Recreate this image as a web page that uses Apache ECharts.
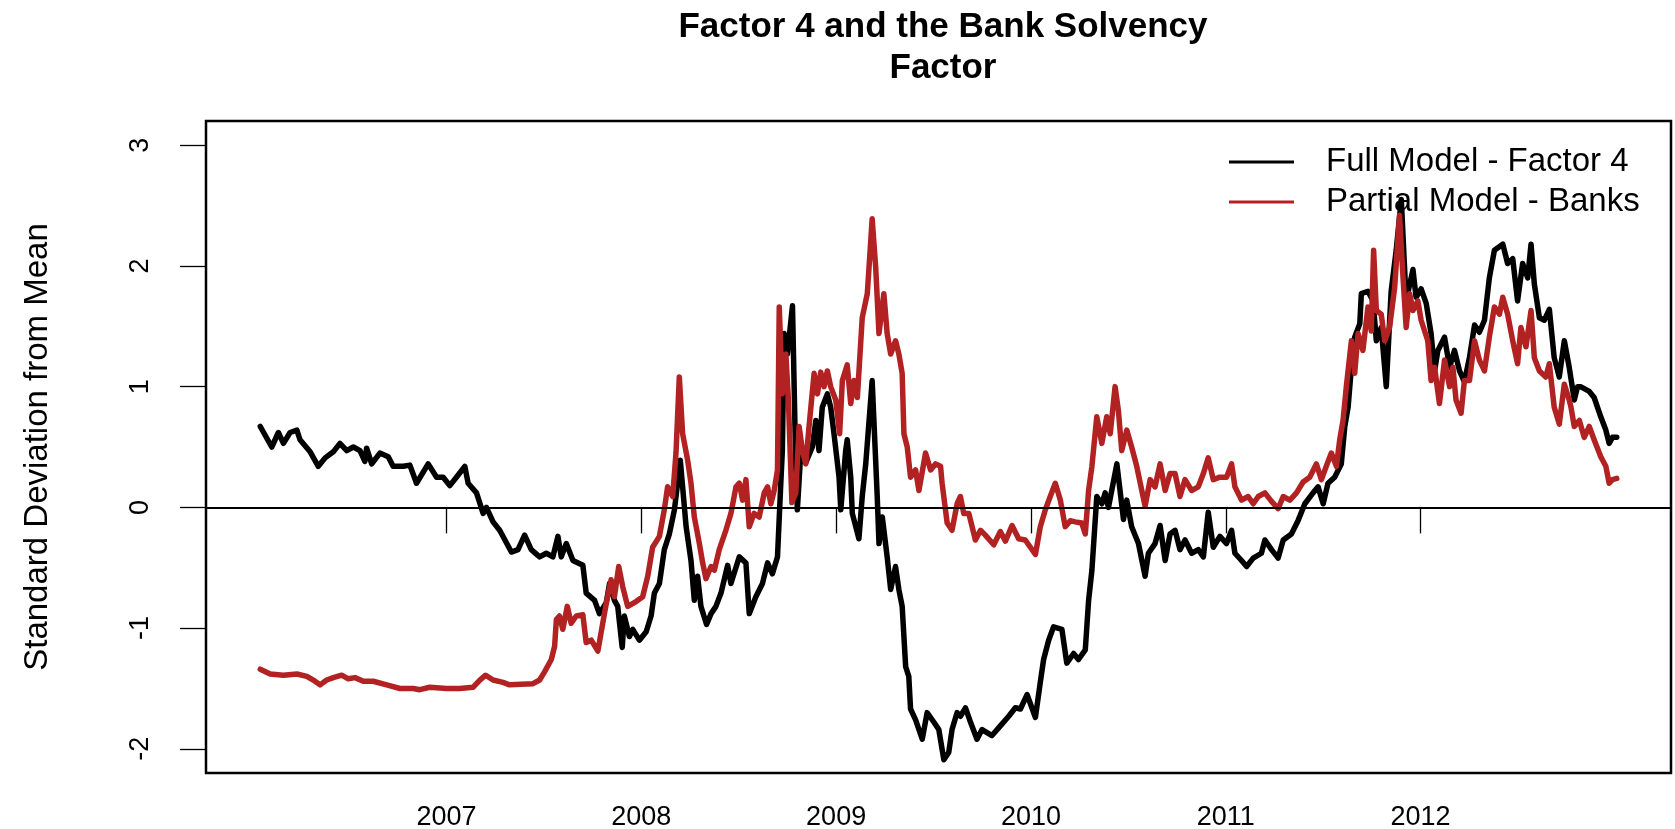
<!DOCTYPE html>
<html>
<head>
<meta charset="utf-8">
<title>Factor 4 and the Bank Solvency Factor</title>
<script src="https://cdn.jsdelivr.net/npm/echarts@6/dist/echarts.min.js"></script>
<style>
  html, body { margin: 0; padding: 0; background: #fff; }
  #chart { width: 1675px; height: 829px; }
</style>
</head>
<body>
<div id="chart"></div>
<script>
// Decimal-year time stamps with standardised factor values.
const fullModelFactor4 = [
  [2006.044,0.67],[2006.103,0.50],[2006.137,0.62],[2006.163,0.53],[2006.197,0.62],[2006.232,0.64],[2006.248,0.56],[2006.300,0.46],[2006.342,0.34],[2006.377,0.41],
  [2006.419,0.46],[2006.453,0.53],[2006.488,0.47],[2006.522,0.50],[2006.556,0.47],[2006.581,0.38],[2006.590,0.49],[2006.616,0.36],[2006.658,0.45],[2006.701,0.42],
  [2006.726,0.34],[2006.778,0.34],[2006.812,0.35],[2006.846,0.20],[2006.906,0.36],[2006.949,0.25],[2006.983,0.25],[2007.017,0.18],[2007.051,0.25],[2007.094,0.34],
  [2007.111,0.20],[2007.154,0.12],[2007.188,-0.05],[2007.205,0.00],[2007.239,-0.12],[2007.273,-0.19],[2007.333,-0.37],[2007.367,-0.35],[2007.401,-0.23],[2007.435,-0.35],
  [2007.478,-0.41],[2007.512,-0.38],[2007.546,-0.41],[2007.572,-0.24],[2007.589,-0.41],[2007.615,-0.30],[2007.649,-0.44],[2007.700,-0.48],[2007.717,-0.71],[2007.760,-0.77],
  [2007.785,-0.88],[2007.820,-0.79],[2007.837,-0.63],[2007.862,-0.77],[2007.879,-0.82],[2007.902,-1.16],[2007.913,-0.90],[2007.939,-1.07],[2007.956,-1.01],[2007.990,-1.10],
  [2008.025,-1.03],[2008.050,-0.90],[2008.067,-0.71],[2008.093,-0.63],[2008.118,-0.35],[2008.144,-0.22],[2008.170,-0.02],[2008.200,0.39],[2008.230,-0.16],[2008.255,-0.44],
  [2008.272,-0.77],[2008.289,-0.57],[2008.306,-0.82],[2008.335,-0.97],[2008.358,-0.88],[2008.383,-0.82],[2008.409,-0.71],[2008.443,-0.48],[2008.460,-0.63],[2008.503,-0.41],
  [2008.537,-0.46],[2008.554,-0.88],[2008.588,-0.74],[2008.622,-0.63],[2008.648,-0.46],[2008.673,-0.55],[2008.699,-0.41],[2008.716,0.20],[2008.724,0.47],[2008.733,1.44],
  [2008.750,1.27],[2008.776,1.67],[2008.793,0.34],[2008.801,-0.02],[2008.819,0.47],[2008.844,0.37],[2008.878,0.50],[2008.896,0.72],[2008.912,0.47],[2008.929,0.83],
  [2008.955,0.94],[2008.972,0.83],[2008.989,0.61],[2009.015,0.25],[2009.024,-0.02],[2009.049,0.47],[2009.057,0.56],[2009.075,0.25],[2009.083,-0.05],[2009.117,-0.26],
  [2009.134,0.09],[2009.152,0.36],[2009.185,1.05],[2009.211,0.09],[2009.220,-0.30],[2009.237,-0.08],[2009.262,-0.41],[2009.280,-0.68],[2009.305,-0.49],[2009.322,-0.68],
  [2009.339,-0.82],[2009.357,-1.32],[2009.373,-1.40],[2009.382,-1.67],[2009.408,-1.76],[2009.442,-1.92],[2009.467,-1.70],[2009.502,-1.78],[2009.527,-1.84],[2009.553,-2.09],
  [2009.578,-2.03],[2009.595,-1.84],[2009.621,-1.70],[2009.638,-1.73],[2009.664,-1.66],[2009.690,-1.78],[2009.723,-1.92],[2009.749,-1.84],[2009.800,-1.89],[2009.843,-1.81],
  [2009.886,-1.73],[2009.920,-1.66],[2009.946,-1.67],[2009.980,-1.55],[2010.023,-1.74],[2010.048,-1.45],[2010.065,-1.26],[2010.091,-1.10],[2010.116,-0.99],[2010.159,-1.01],
  [2010.184,-1.29],[2010.219,-1.21],[2010.244,-1.26],[2010.279,-1.18],[2010.296,-0.77],[2010.313,-0.52],[2010.338,0.09],[2010.364,0.03],[2010.381,0.12],[2010.398,0.00],
  [2010.441,0.36],[2010.475,-0.10],[2010.492,0.06],[2010.517,-0.16],[2010.552,-0.30],[2010.586,-0.57],[2010.603,-0.38],[2010.637,-0.30],[2010.663,-0.15],[2010.689,-0.44],
  [2010.714,-0.22],[2010.740,-0.19],[2010.765,-0.35],[2010.791,-0.27],[2010.825,-0.38],[2010.859,-0.35],[2010.885,-0.41],[2010.910,-0.04],[2010.936,-0.33],[2010.970,-0.24],
  [2011.004,-0.30],[2011.030,-0.19],[2011.047,-0.38],[2011.081,-0.44],[2011.107,-0.49],[2011.141,-0.42],[2011.183,-0.38],[2011.201,-0.27],[2011.235,-0.35],[2011.269,-0.42],
  [2011.295,-0.27],[2011.337,-0.22],[2011.371,-0.11],[2011.406,0.03],[2011.448,0.12],[2011.474,0.17],[2011.500,0.03],[2011.525,0.20],[2011.559,0.25],[2011.593,0.36],
  [2011.611,0.67],[2011.628,0.83],[2011.645,1.16],[2011.662,1.41],[2011.688,1.52],[2011.696,1.77],[2011.730,1.79],[2011.756,1.71],[2011.773,1.38],[2011.798,1.49],
  [2011.824,1.00],[2011.849,1.79],[2011.875,2.13],[2011.901,2.55],[2011.926,1.71],[2011.961,1.97],[2011.977,1.74],[2012.003,1.81],[2012.029,1.69],[2012.054,1.44],
  [2012.072,1.13],[2012.089,1.30],[2012.123,1.41],[2012.149,1.16],[2012.174,1.30],[2012.200,1.13],[2012.225,1.04],[2012.251,1.24],[2012.277,1.51],[2012.302,1.45],
  [2012.328,1.55],[2012.353,1.90],[2012.379,2.13],[2012.422,2.18],[2012.447,2.02],[2012.473,2.06],[2012.498,1.71],[2012.524,2.02],[2012.550,1.90],[2012.567,2.18],
  [2012.584,1.85],[2012.610,1.57],[2012.635,1.55],[2012.661,1.64],[2012.686,1.24],[2012.712,1.08],[2012.738,1.38],[2012.763,1.16],[2012.789,0.89],[2012.806,1.00],
  [2012.821,1.00],[2012.866,0.96],[2012.891,0.91],[2012.925,0.75],[2012.951,0.64],[2012.968,0.53],[2012.985,0.58],[2013.007,0.58]
];

const partialModelBanks = [
  [2006.044,-1.34],[2006.095,-1.38],[2006.163,-1.39],[2006.232,-1.38],[2006.283,-1.40],[2006.325,-1.44],[2006.351,-1.47],[2006.385,-1.43],[2006.419,-1.41],[2006.462,-1.39],
  [2006.496,-1.42],[2006.530,-1.41],[2006.573,-1.44],[2006.624,-1.44],[2006.693,-1.47],[2006.761,-1.50],[2006.829,-1.50],[2006.863,-1.51],[2006.914,-1.49],[2007.000,-1.50],
  [2007.068,-1.50],[2007.136,-1.49],[2007.171,-1.43],[2007.201,-1.39],[2007.239,-1.43],[2007.290,-1.45],[2007.324,-1.47],[2007.444,-1.46],[2007.478,-1.43],[2007.504,-1.36],
  [2007.538,-1.26],[2007.555,-1.15],[2007.564,-0.93],[2007.580,-0.90],[2007.597,-1.01],[2007.620,-0.82],[2007.640,-0.96],[2007.666,-0.90],[2007.700,-0.89],[2007.717,-1.12],
  [2007.743,-1.10],[2007.777,-1.19],[2007.802,-0.96],[2007.823,-0.77],[2007.845,-0.60],[2007.862,-0.74],[2007.884,-0.49],[2007.905,-0.66],[2007.930,-0.82],[2007.973,-0.78],
  [2008.007,-0.74],[2008.033,-0.57],[2008.058,-0.33],[2008.093,-0.24],[2008.118,-0.02],[2008.135,0.17],[2008.161,0.09],[2008.178,0.45],[2008.195,1.08],[2008.212,0.61],
  [2008.238,0.39],[2008.255,0.20],[2008.272,-0.08],[2008.298,-0.30],[2008.315,-0.46],[2008.332,-0.59],[2008.358,-0.49],[2008.375,-0.52],[2008.400,-0.35],[2008.434,-0.19],
  [2008.460,-0.05],[2008.486,0.17],[2008.503,0.20],[2008.520,0.06],[2008.537,0.23],[2008.554,-0.16],[2008.579,-0.05],[2008.605,-0.08],[2008.631,0.12],[2008.648,0.17],
  [2008.665,0.03],[2008.682,0.14],[2008.699,0.31],[2008.708,1.66],[2008.724,0.94],[2008.742,1.27],[2008.755,0.89],[2008.773,0.04],[2008.793,0.12],[2008.810,0.67],
  [2008.827,0.47],[2008.844,0.36],[2008.861,0.67],[2008.887,1.11],[2008.904,0.94],[2008.921,1.12],[2008.938,1.00],[2008.955,1.13],[2008.972,1.00],[2008.998,0.89],
  [2009.018,0.61],[2009.032,1.05],[2009.057,1.18],[2009.075,0.86],[2009.092,1.05],[2009.109,0.91],[2009.134,1.57],[2009.160,1.77],[2009.169,1.99],[2009.185,2.39],
  [2009.203,1.99],[2009.220,1.44],[2009.245,1.77],[2009.262,1.44],[2009.280,1.27],[2009.305,1.38],[2009.322,1.27],[2009.339,1.11],[2009.348,0.61],[2009.365,0.50],
  [2009.382,0.25],[2009.408,0.31],[2009.425,0.14],[2009.459,0.45],[2009.485,0.31],[2009.510,0.36],[2009.536,0.34],[2009.544,0.20],[2009.570,-0.13],[2009.595,-0.19],
  [2009.621,0.03],[2009.638,0.09],[2009.655,-0.05],[2009.681,-0.05],[2009.715,-0.27],[2009.741,-0.19],[2009.766,-0.23],[2009.809,-0.31],[2009.843,-0.20],[2009.869,-0.28],
  [2009.903,-0.15],[2009.937,-0.26],[2009.971,-0.27],[2009.997,-0.33],[2010.023,-0.39],[2010.048,-0.16],[2010.074,-0.02],[2010.099,0.09],[2010.125,0.20],[2010.151,0.06],
  [2010.176,-0.16],[2010.202,-0.11],[2010.227,-0.12],[2010.261,-0.13],[2010.279,-0.22],[2010.296,0.14],[2010.313,0.34],[2010.338,0.75],[2010.364,0.53],[2010.389,0.75],
  [2010.407,0.61],[2010.432,1.00],[2010.449,0.80],[2010.466,0.47],[2010.492,0.64],[2010.517,0.50],[2010.543,0.34],[2010.569,0.14],[2010.586,0.01],[2010.612,0.23],
  [2010.637,0.17],[2010.663,0.36],[2010.689,0.14],[2010.714,0.28],[2010.740,0.28],[2010.765,0.09],[2010.791,0.23],[2010.825,0.14],[2010.859,0.17],[2010.885,0.28],
  [2010.910,0.41],[2010.936,0.23],[2010.970,0.25],[2011.004,0.25],[2011.030,0.36],[2011.047,0.17],[2011.081,0.06],[2011.115,0.09],[2011.141,0.03],[2011.167,0.09],
  [2011.201,0.12],[2011.235,0.05],[2011.269,-0.01],[2011.295,0.09],[2011.329,0.06],[2011.363,0.12],[2011.397,0.21],[2011.431,0.25],[2011.465,0.36],[2011.491,0.23],
  [2011.516,0.34],[2011.542,0.45],[2011.568,0.34],[2011.585,0.56],[2011.602,0.72],[2011.619,1.00],[2011.645,1.38],[2011.662,1.11],[2011.679,1.44],[2011.704,1.30],
  [2011.730,1.66],[2011.747,1.46],[2011.759,2.13],[2011.773,1.63],[2011.798,1.60],[2011.816,1.38],[2011.841,1.49],[2011.867,1.82],[2011.892,2.42],[2011.909,1.93],
  [2011.926,1.49],[2011.944,1.77],[2011.961,1.63],[2011.986,1.71],[2012.003,1.55],[2012.037,1.38],[2012.054,1.05],[2012.072,1.16],[2012.097,0.86],[2012.123,1.22],
  [2012.149,1.00],[2012.166,1.16],[2012.182,0.89],[2012.208,0.78],[2012.225,1.05],[2012.251,1.05],[2012.277,1.38],[2012.302,1.22],[2012.328,1.13],[2012.353,1.41],
  [2012.379,1.66],[2012.405,1.60],[2012.422,1.74],[2012.447,1.60],[2012.473,1.38],[2012.498,1.19],[2012.515,1.49],[2012.541,1.33],[2012.567,1.63],[2012.584,1.24],
  [2012.610,1.13],[2012.643,1.08],[2012.661,1.19],[2012.686,0.83],[2012.712,0.69],[2012.738,1.02],[2012.763,0.89],[2012.772,0.83],[2012.789,0.67],[2012.815,0.72],
  [2012.840,0.58],[2012.866,0.67],[2012.891,0.56],[2012.925,0.42],[2012.951,0.34],[2012.968,0.20],[2012.985,0.23],[2013.007,0.24]
];

const yearTicks = [2007, 2008, 2009, 2010, 2011, 2012];
const valueTicks = [-2, -1, 0, 1, 2, 3];
const seriesNames = ['Full Model - Factor 4', 'Partial Model - Banks'];

const FONT = '"Liberation Sans", Arial, Helvetica, sans-serif';

// Axis span padded by 4% of the data range on each side
const xs = fullModelFactor4.map(p => p[0]);
const xMin = Math.min(...xs), xMax = Math.max(...xs);
const xPad = (xMax - xMin) * 0.04;
const yLo = -2, yHi = 3, yPad = (yHi - yLo) * 0.04;

const chart = echarts.init(document.getElementById('chart'), null, { renderer: 'canvas' });

chart.setOption({
  animation: false,
  backgroundColor: '#ffffff',
  textStyle: { fontFamily: FONT },
  title: {
    text: 'Factor 4 and the Bank Solvency\nFactor',
    left: 938,
    textAlign: 'center',
    top: 2,
    textStyle: { fontFamily: FONT, fontSize: 35, fontWeight: 'bold', color: '#000', lineHeight: 41 }
  },
  legend: {
    data: seriesNames,
    orient: 'vertical',
    left: 1229,
    top: 142,
    padding: 0,
    itemGap: 0,
    icon: 'rect',
    itemWidth: 65,
    itemHeight: 3,
    textStyle: { fontFamily: FONT, fontSize: 33, color: '#000', lineHeight: 40, padding: [0, 0, 0, 27] }
  },
  grid: {
    left: 206, right: 4, top: 121, bottom: 56,
    outerBoundsMode: 'none',
    show: true, borderColor: '#000', borderWidth: 2.5, backgroundColor: 'transparent'
  },
  xAxis: {
    type: 'value',
    min: xMin - xPad,
    max: xMax + xPad,
    axisLine: { show: false },
    splitLine: { show: false },
    axisTick: { show: true, customValues: yearTicks, length: 26, lineStyle: { color: '#000', width: 1.3 } },
    axisLabel: {
      customValues: yearTicks, margin: 31, fontFamily: FONT, fontSize: 27, color: '#000',
      formatter: v => String(Math.round(v))
    }
  },
  yAxis: {
    type: 'value',
    min: yLo - yPad,
    max: yHi + yPad,
    name: 'Standard Deviation from Mean',
    nameLocation: 'middle',
    nameRotate: 90,
    nameGap: 152,
    nameTextStyle: { fontFamily: FONT, fontSize: 33, color: '#000' },
    axisLine: { show: false },
    splitLine: { show: false },
    axisTick: { show: true, customValues: valueTicks, length: 26, lineStyle: { color: '#000', width: 1.3 } },
    axisLabel: {
      customValues: valueTicks, rotate: 90, margin: 52, fontFamily: FONT, fontSize: 27, color: '#000',
      formatter: v => String(Math.round(v))
    }
  },
  series: [
    {
      name: seriesNames[0],
      type: 'line',
      data: fullModelFactor4,
      showSymbol: false,
      symbol: 'none',
      color: '#000000',
      lineStyle: { color: '#000000', width: 5.5, cap: 'round', join: 'round' },
      z: 2
    },
    {
      name: seriesNames[1],
      type: 'line',
      data: partialModelBanks,
      showSymbol: false,
      symbol: 'none',
      color: '#B22222',
      lineStyle: { color: '#B22222', width: 5.5, cap: 'round', join: 'round' },
      z: 3,
      markLine: {
        silent: true,
        symbol: ['none', 'none'],
        label: { show: false },
        lineStyle: { color: '#000', width: 2, type: 'solid' },
        data: [{ yAxis: 0 }]
      }
    }
  ]
});
</script>
</body>
</html>
